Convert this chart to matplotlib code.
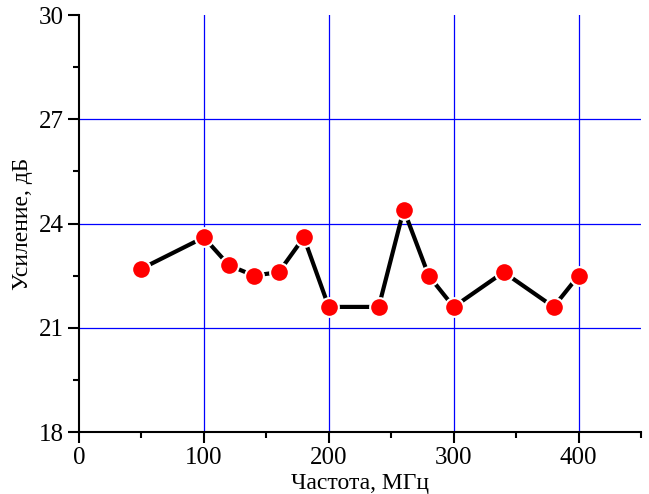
import matplotlib.pyplot as plt
from matplotlib.ticker import MultipleLocator

freq = [50, 100, 120, 140, 160, 180, 200, 240, 260, 280, 300, 340, 380, 400]
gain = [22.7, 23.6, 22.8, 22.5, 22.6, 23.6, 21.6, 21.6, 24.4, 22.5, 21.6, 22.6, 21.6, 22.5]

plt.rcParams['font.family'] = ['Liberation Serif', 'DejaVu Serif']

fig = plt.figure(figsize=(6.49, 4.94), dpi=100)
ax = fig.add_axes([0.1217, 0.1255, 0.866, 0.8441])

ax.set_xlim(0, 450)
ax.set_ylim(18, 30)

for x in [100, 200, 300, 400]:
    ax.axvline(x, color="blue", linewidth=0.9, zorder=1)
for y in [21, 24, 27]:
    ax.axhline(y, color="blue", linewidth=0.9, zorder=1)

ax.plot(freq, gain, color="black", linewidth=3, zorder=2)
ax.plot(freq, gain, linestyle="none", marker="o", markersize=13.5,
        markerfacecolor="red", markeredgecolor="white", markeredgewidth=1.5, zorder=3)

ax.xaxis.set_major_locator(MultipleLocator(100))
ax.xaxis.set_minor_locator(MultipleLocator(50))
ax.yaxis.set_major_locator(MultipleLocator(3))
ax.yaxis.set_minor_locator(MultipleLocator(1.5))

ax.spines["top"].set_visible(False)
ax.spines["right"].set_visible(False)
ax.spines["left"].set_linewidth(1.5)
ax.spines["bottom"].set_linewidth(1.5)

ax.tick_params(which="major", direction="out", length=8, width=1.5, labelsize=18, pad=3)
ax.tick_params(which="minor", direction="out", length=4, width=1.5)

ax.set_xlabel("Частота, МГц", fontsize=17, labelpad=3)
ax.set_ylabel("Усиление, дБ", fontsize=17, labelpad=4)

fig.savefig("out.png", dpi=100)
